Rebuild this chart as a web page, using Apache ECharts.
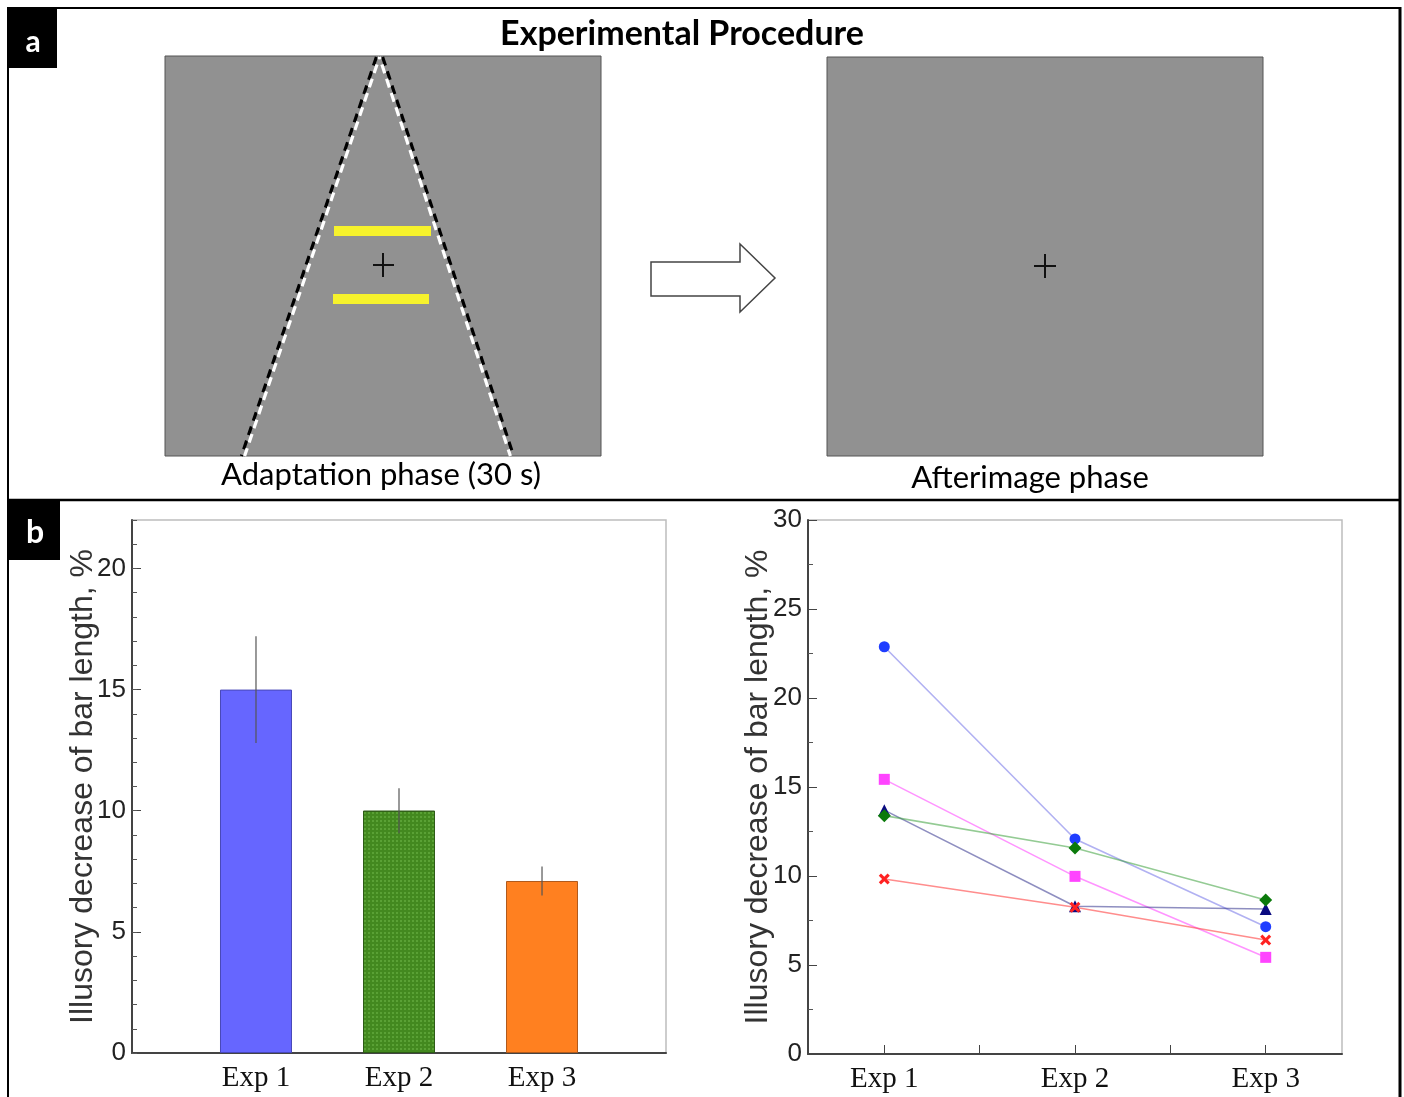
<!DOCTYPE html>
<html>
<head>
<meta charset="utf-8">
<script src="https://cdn.jsdelivr.net/npm/echarts@6/dist/echarts.min.js"></script>
<style>
html,body{margin:0;padding:0;background:#fff;}
#chart{width:1404px;height:1097px;}
</style>
</head>
<body>
<div id="chart"></div>
<script>
// ---- data ----
const categories = ['Exp 1', 'Exp 2', 'Exp 3'];
const catPositions = [1, 2, 3];
const meanValues = [15.0, 10.0, 7.1];
const errValues = [2.2, 0.93, 0.6];
const barColors = ['#6666ff', '#43891f', '#ff8020'];
const barBorders = ['#4848b8', '#2d5c16', '#b05a1c'];

const subjBlue = [22.88, 12.08, 7.15];
const subjMagenta = [15.43, 9.98, 5.43];
const subjNavy = [13.7, 8.3, 8.15];
const subjGreen = [13.39, 11.57, 8.65];
const subjRed = [9.83, 8.24, 6.40];

const leftYTicks = [0, 5, 10, 15, 20];
const rightYTicks = [0, 5, 10, 15, 20, 25, 30];
const rightXTicks = [1, 1.5, 2, 2.5, 3];

const titleText = 'Experimental Procedure';
const phaseLabels = ['Adaptation phase (30 s)', 'Afterimage phase'];
const panelLetters = ['a', 'b'];
const yTitle = 'Illusory decrease of bar length, %';

const chart = echarts.init(document.getElementById('chart'), null, {renderer: 'canvas'});

function pts(vals) { return vals.map((v, i) => [catPositions[i], v]); }

const xSym = 'path://M0,2 L2,0 L5,3 L8,0 L10,2 L7,5 L10,8 L8,10 L5,7 L2,10 L0,8 L3,5 Z';

const axisLabelY = {color: '#222', fontFamily: 'Liberation Sans', fontSize: 26, margin: 6};
const axisLabelX = {color: '#111', fontFamily: 'Liberation Serif', fontSize: 29, margin: 11};

function lineSeries(vals, lineColor, symColor, symbol, size) {
  return {
    type: 'line', xAxisIndex: 1, yAxisIndex: 2, data: pts(vals),
    symbol: symbol, symbolSize: size, showSymbol: true,
    lineStyle: {color: lineColor, width: 1.6},
    itemStyle: {color: symColor},
    z: 3, animation: false
  };
}

function dashedEdge(x1, y1, x2, y2, off) {
  return [
    {type: 'line', shape: {x1: x1 - off, y1: y1, x2: x2 - off, y2: y2}, style: {stroke: '#000', lineWidth: 3.2, lineDash: [9, 6]}},
    {type: 'line', shape: {x1: x1 + off, y1: y1, x2: x2 + off, y2: y2}, style: {stroke: '#fff', lineWidth: 3.2, lineDash: [9, 6], lineDashOffset: 7}}
  ];
}

// graphic elements for panel a
const graphics = [
  {type: 'rect', shape: {x: 165, y: 56, width: 436, height: 400}, style: {fill: '#919191', stroke: '#555', lineWidth: 1}},
  {type: 'rect', shape: {x: 827, y: 57, width: 436, height: 399}, style: {fill: '#919191', stroke: '#555', lineWidth: 1}},
  ...dashedEdge(378, 57, 243, 456, 1.6),
  ...dashedEdge(381, 57, 512, 456, -1.6),
  {type: 'rect', shape: {x: 334, y: 226, width: 97, height: 10}, style: {fill: '#f6f22c'}},
  {type: 'rect', shape: {x: 333, y: 294, width: 96, height: 10}, style: {fill: '#f6f22c'}},
  {type: 'line', shape: {x1: 373, y1: 265, x2: 394, y2: 265}, style: {stroke: '#111', lineWidth: 2}},
  {type: 'line', shape: {x1: 383, y1: 253, x2: 383, y2: 277}, style: {stroke: '#111', lineWidth: 2}},
  {type: 'line', shape: {x1: 1034, y1: 266, x2: 1056, y2: 266}, style: {stroke: '#111', lineWidth: 2}},
  {type: 'line', shape: {x1: 1045, y1: 254, x2: 1045, y2: 278}, style: {stroke: '#111', lineWidth: 2}},
  {type: 'polygon', shape: {points: [[651, 262], [740, 262], [740, 244], [775, 278], [740, 312], [740, 296], [651, 296]]},
   style: {fill: '#fff', stroke: '#444', lineWidth: 1.5}},
  {type: 'text', x: 682, y: 34, style: {text: titleText, font: 'bold 34px Lato', fill: '#000', align: 'center', verticalAlign: 'middle'}},
  {type: 'text', x: 381, y: 475, style: {text: phaseLabels[0], font: '31px Lato', fill: '#000', align: 'center', verticalAlign: 'middle'}},
  {type: 'text', x: 1030, y: 478, style: {text: phaseLabels[1], font: '31px Lato', fill: '#000', align: 'center', verticalAlign: 'middle'}},
  {type: 'line', shape: {x1: 7, y1: 8, x2: 1401, y2: 8}, style: {stroke: '#000', lineWidth: 2}},
  {type: 'line', shape: {x1: 8, y1: 7, x2: 8, y2: 1097}, style: {stroke: '#000', lineWidth: 2}},
  {type: 'line', shape: {x1: 1400, y1: 7, x2: 1400, y2: 1097}, style: {stroke: '#000', lineWidth: 3}},
  {type: 'line', shape: {x1: 7, y1: 500, x2: 1401, y2: 500}, style: {stroke: '#000', lineWidth: 2.5}},
  {type: 'rect', shape: {x: 8, y: 8, width: 49, height: 60}, style: {fill: '#000'}},
  {type: 'text', x: 33, y: 42, style: {text: panelLetters[0], font: 'bold 30px Lato', fill: '#fff', align: 'center', verticalAlign: 'middle'}},
  {type: 'rect', shape: {x: 8, y: 501, width: 52, height: 59}, style: {fill: '#000'}},
  {type: 'text', x: 35, y: 533, style: {text: panelLetters[1], font: 'bold 32px Lato', fill: '#fff', align: 'center', verticalAlign: 'middle'}}
];

const option = {
  backgroundColor: '#fff',
  animation: false,
  graphic: {elements: graphics},
  grid: [
    {left: 132, top: 520, width: 534, height: 533, show: true, borderColor: '#bdbdbd', borderWidth: 1.5, backgroundColor: '#fff'},
    {left: 808, top: 520, width: 534, height: 534, show: true, borderColor: '#bdbdbd', borderWidth: 1.5, backgroundColor: '#fff'}
  ],
  xAxis: [
    {type: 'value', gridIndex: 0, min: 0.133, max: 3.867,
     axisLine: {show: true, onZero: false, lineStyle: {color: '#444', width: 2}},
     axisTick: {show: false}, splitLine: {show: false},
     axisLabel: Object.assign({}, axisLabelX, {customValues: catPositions, formatter: v => categories[Math.round(v) - 1]})},
    {type: 'value', gridIndex: 1, min: 0.6, max: 3.4,
     axisLine: {show: true, onZero: false, lineStyle: {color: '#444', width: 2}},
     axisTick: {show: true, inside: true, length: 9, customValues: rightXTicks, lineStyle: {color: '#444', width: 1}},
     splitLine: {show: false},
     axisLabel: Object.assign({}, axisLabelX, {customValues: catPositions, formatter: v => categories[Math.round(v) - 1]})}
  ],
  yAxis: [
    {type: 'value', gridIndex: 0, min: 0, max: 22,
     name: yTitle, nameLocation: 'middle', nameGap: 33, nameRotate: 90, nameMoveOverlap: false,
     nameTextStyle: {fontFamily: 'Liberation Sans', fontSize: 32, color: '#333'},
     axisLine: {show: true, lineStyle: {color: '#444', width: 2}},
     axisTick: {show: true, inside: true, length: 9, customValues: leftYTicks, lineStyle: {color: '#444', width: 1}},
     axisLabel: Object.assign({}, axisLabelY, {customValues: leftYTicks}),
     splitLine: {show: false}},
    {type: 'value', gridIndex: 0, min: 0, max: 22, interval: 1, position: 'left',
     axisLine: {show: false},
     axisTick: {show: true, inside: true, length: 5, lineStyle: {color: '#555', width: 1}},
     axisLabel: {show: false}, splitLine: {show: false}},
    {type: 'value', gridIndex: 1, min: 0, max: 30, interval: 5,
     name: yTitle, nameLocation: 'middle', nameGap: 34, nameRotate: 90, nameMoveOverlap: false,
     nameTextStyle: {fontFamily: 'Liberation Sans', fontSize: 32, color: '#333'},
     axisLine: {show: true, lineStyle: {color: '#444', width: 2}},
     axisTick: {show: true, inside: true, length: 9, lineStyle: {color: '#444', width: 1}},
     minorTick: {show: true, splitNumber: 2, length: 5, lineStyle: {color: '#555', width: 1}},
     axisLabel: Object.assign({}, axisLabelY, {customValues: rightYTicks}),
     splitLine: {show: false}}
  ],
  series: [
    {type: 'bar', xAxisIndex: 0, yAxisIndex: 0, barWidth: 72,
     data: meanValues.map((v, i) => ({
       value: [catPositions[i], v],
       itemStyle: {color: barColors[i], borderColor: barBorders[i], borderWidth: 1,
         decal: i === 1 ? {symbol: 'rect', symbolSize: 1, dashArrayX: [[2, 2]], dashArrayY: [2, 2], color: 'rgba(120,190,80,0.45)'} : null}
     })),
     z: 2},
    {type: 'custom', xAxisIndex: 0, yAxisIndex: 0, z: 4,
     data: meanValues.map((v, i) => [catPositions[i], v - errValues[i], v + errValues[i]]),
     renderItem: function (params, api) {
       const p1 = api.coord([api.value(0), api.value(1)]);
       const p2 = api.coord([api.value(0), api.value(2)]);
       return {type: 'line', shape: {x1: p1[0], y1: p1[1], x2: p2[0], y2: p2[1]}, style: {stroke: '#555', lineWidth: 1.2}};
     }},
    lineSeries(subjBlue, 'rgba(100,100,230,0.5)', '#1f3dff', 'circle', 11),
    lineSeries(subjMagenta, 'rgba(255,90,255,0.65)', '#ff44ff', 'rect', 11),
    lineSeries(subjNavy, 'rgba(50,50,140,0.55)', '#0a0a80', 'triangle', 12),
    lineSeries(subjGreen, 'rgba(60,160,60,0.55)', '#0b7a0b', 'diamond', 13),
    lineSeries(subjRed, 'rgba(255,80,80,0.65)', '#ff2222', xSym, 11)
  ]
};
chart.setOption(option);
</script>
</body>
</html>
